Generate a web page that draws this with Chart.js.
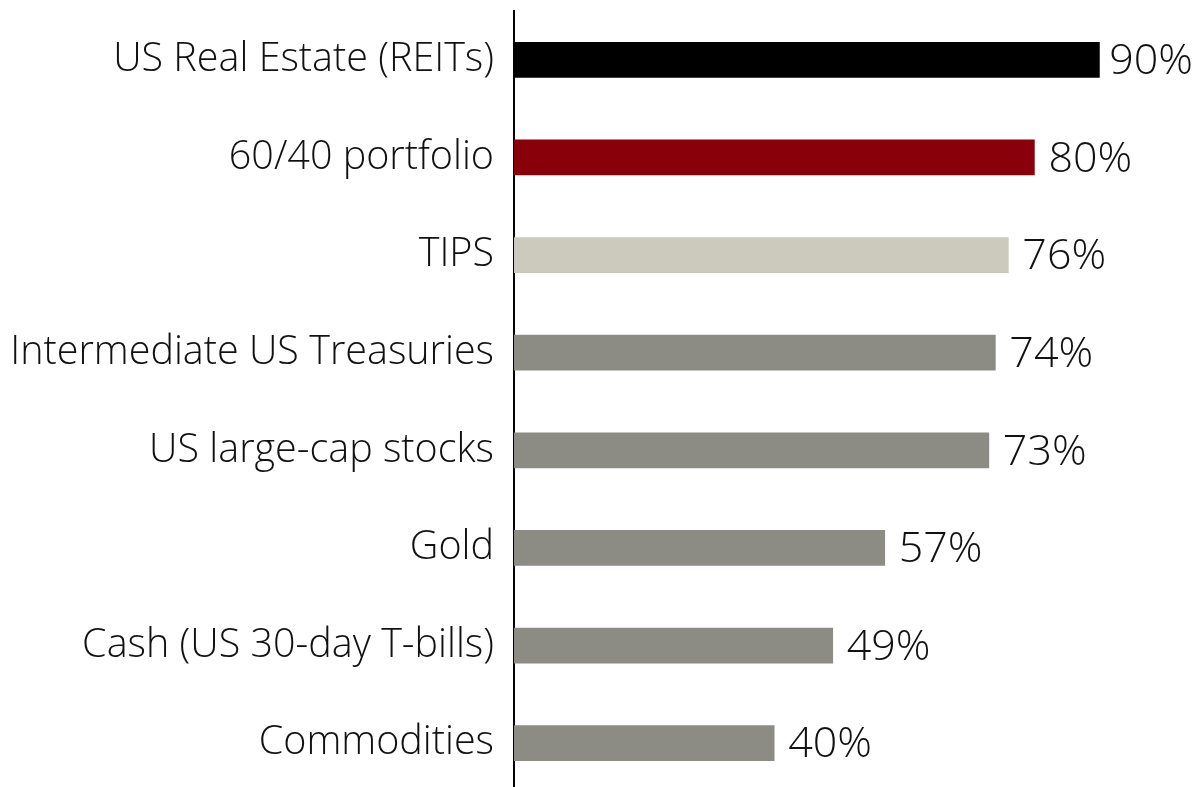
<!DOCTYPE html>
<html>
<head>
<meta charset="utf-8">
<script src="https://cdn.jsdelivr.net/npm/chart.js@4"></script>
<style>
	html, body { margin: 0; padding: 0; background: #fff; overflow: hidden; }
	#wrap { position: relative; width: 1197px; height: 792px; }
</style>
</head>
<body>
<div id="wrap"><canvas id="assetChart"></canvas></div>
<script>
// categories and values
const assetLabels = [
	"US Real Estate (REITs)",
	"60/40 portfolio",
	"TIPS",
	"Intermediate US Treasuries",
	"US large-cap stocks",
	"Gold",
	"Cash (US 30-day T-bills)",
	"Commodities",
];
const assetValues = [90, 80, 76, 74, 73, 57, 49, 40];
const barColors = [
	"#000000",
	"#8a000a",
	"#cccabd",
	"#8c8c84",
	"#8c8c84",
	"#8c8c84",
	"#8c8c84",
	"#8c8c84",
];

const fontFamily = "'Open Sans', 'Noto Sans', sans-serif";

// draws the "90%" style labels right of each bar
const valueLabels = {
	id: "valueLabels",
	afterDatasetsDraw(chart) {
		const ctx = chart.ctx;
		const meta = chart.getDatasetMeta(0);
		ctx.save();
		ctx.font = "300 43px " + fontFamily;
		ctx.fillStyle = "#111";
		ctx.textAlign = "left";
		ctx.textBaseline = "middle";
		meta.data.forEach((bar, i) => {
			const txt = assetValues[i] + "%";
			// keep the widest label inside the canvas
			const w = ctx.measureText(txt).width;
			const x = Math.min(bar.x + 14, chart.width - 4 - w);
			ctx.fillText(txt, x, bar.y + 2);
		});
		ctx.restore();
	},
};

const ctx = document.getElementById("assetChart").getContext("2d");
new Chart(ctx, {
	type: "bar",
	data: {
		labels: assetLabels,
		datasets: [
			{
				data: assetValues,
				backgroundColor: barColors,
				borderWidth: 0,
				barThickness: 35,
			},
		],
	},
	options: {
		indexAxis: "y",
		responsive: true,
		maintainAspectRatio: false,
		animation: false,
		layout: { padding: { top: 11, right: 0, bottom: 0, left: 0 } },
		plugins: {
			legend: { display: false },
			tooltip: { enabled: false },
		},
		scales: {
			x: {
				display: false,
				min: 0,
				max: 105,
			},
			y: {
				afterFit: (scale) => {
					scale.width = 514;
					scale.paddingTop = 0;
					scale.paddingBottom = 0;
				},
				grid: { display: false, drawTicks: false },
				border: { display: true, color: "#000", width: 2 },
				ticks: {
					padding: 20,
					color: "#111",
					font: { family: fontFamily, size: 39.5, weight: 300 },
				},
			},
		},
	},
	plugins: [valueLabels],
});
</script>
</body>
</html>
